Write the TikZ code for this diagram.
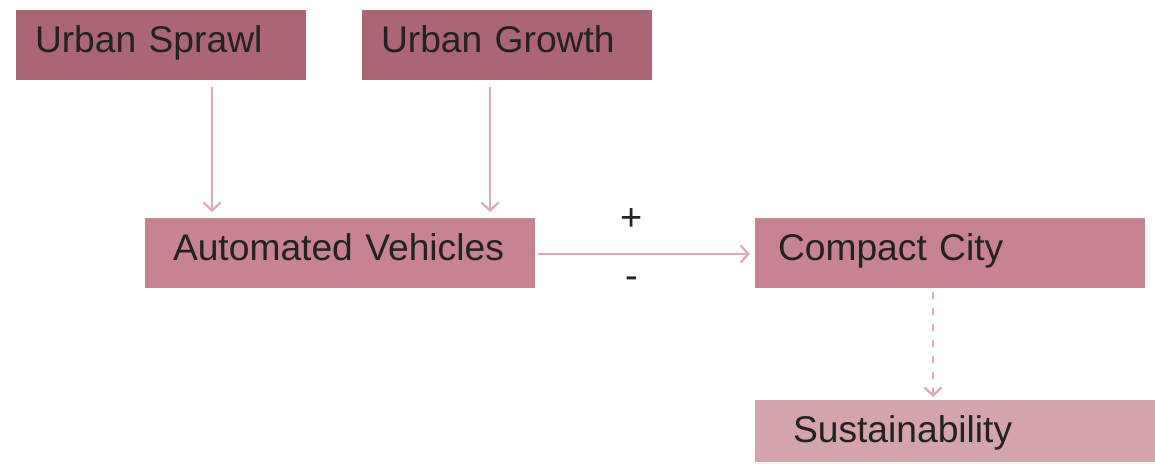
\documentclass[tikz,border=0pt]{standalone}
\usepackage{fontspec}
\setmainfont{Liberation Sans}
\usetikzlibrary{arrows.meta,positioning}
\definecolor{darkrose}{HTML}{AB6676}
\definecolor{midrose}{HTML}{C78490}
\definecolor{lightrose}{HTML}{D4A4AB}
\definecolor{linkrose}{HTML}{DDAAB3}
\definecolor{inkgray}{HTML}{222222}
\begin{document}
\begin{tikzpicture}[x=0.5pt, y=-0.5pt,
  box/.style={anchor=north west, inner ysep=0pt, outer sep=0pt, align=left, text=inkgray,
    font=\fontsize{18.6}{22}\selectfont, minimum height=35pt, text height=13.5pt, text depth=6.5pt},
  link/.style={draw=linkrose, line width=1.1pt, -{Straight Barb[length=4pt,width=8.5pt,line width=1.1pt]}},
  sign/.style={font=\fontsize{19}{22}\selectfont, text=inkgray, inner sep=0pt}]
\useasboundingbox (0,0) rectangle (1155,463);
\node[box, fill=darkrose, inner xsep=9.5pt, text width=126pt] (sprawl) at (16,10) {Urban Sprawl};
\node[box, fill=darkrose, inner xsep=9.5pt, text width=126pt] (growth) at (362,10) {Urban Growth};
\node[box, fill=midrose, inner xsep=14pt, text width=167pt] (av) at (145,218) {Automated Vehicles};
\node[box, fill=midrose, inner xsep=11.5pt, text width=172pt] (cc) at (755,218) {Compact City};
\node[box, fill=lightrose, inner xsep=19pt, text width=162pt, minimum height=31pt, text height=15.5pt, text depth=4.5pt] (sust) at (755,400) {Sustainability};
% connectors
\draw[link, shorten <=3.5pt, shorten >=3pt] ([xshift=25.5pt]sprawl.south) -- ([xshift=25.5pt]sprawl.south |- av.north);
\draw[link, shorten <=3.5pt, shorten >=3pt] ([xshift=-8.5pt]growth.south) -- ([xshift=-8.5pt]growth.south |- av.north);
\draw[link, shorten <=1.5pt, shorten >=2.5pt] ([yshift=-0.5pt]av.east) -- ([yshift=-0.5pt]cc.west)
  node[sign, pos=0.44, above=11pt] (plus) {+}
  node[sign, pos=0.44, below=11pt] (minus) {-};
\draw[link, dash pattern=on 3.5pt off 4.5pt, shorten <=2pt, shorten >=1.5pt] ([xshift=-8.5pt]cc.south) -- ([xshift=-8.5pt]cc.south |- sust.north);
\end{tikzpicture}
\end{document}
